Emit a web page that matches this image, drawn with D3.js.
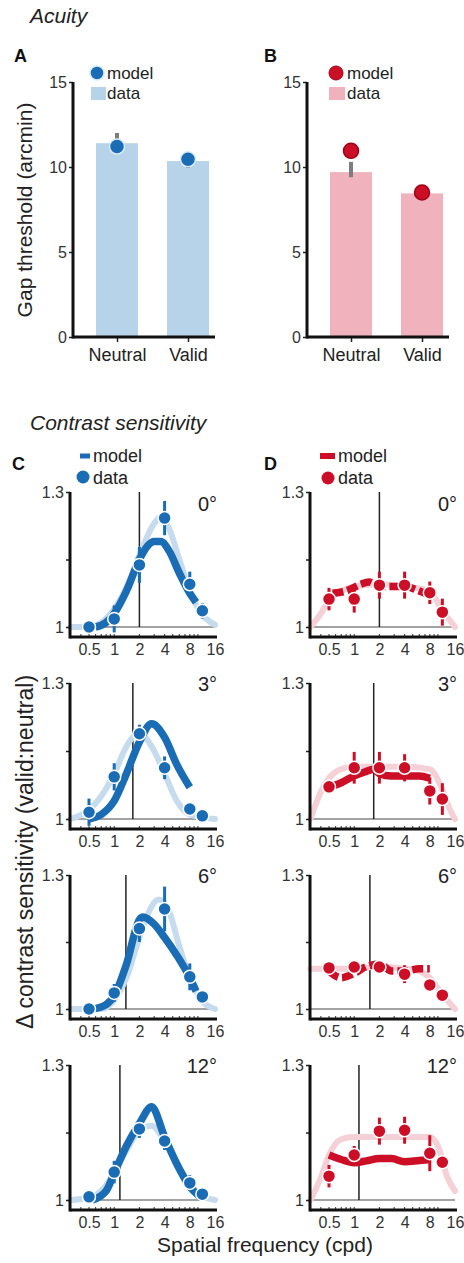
<!DOCTYPE html>
<html><head><meta charset="utf-8">
<script src="https://cdn.jsdelivr.net/npm/d3@7"></script>
<style>body{margin:0;background:#fff}svg{display:block;font-family:"Liberation Sans",Arial,Helvetica,sans-serif}</style>
</head><body><svg id="c" width="464" height="1263"></svg>
<script>
// ---------------- DATA ----------------
const acuityConditions = ["Neutral", "Valid"];
const acuityTicks = [0, 5, 10, 15];
const acuityDataA = [11.4, 10.35];
const acuityModelA = [11.2, 10.45];
const acuityErrLoA = [11.0, 9.95];
const acuityErrHiA = [12.0, 10.35];
const acuityDataB = [9.7, 8.45];
const acuityModelB = [10.95, 8.5];
const acuityErrLoB = [9.4, 8.4];
const acuityErrHiB = [10.3, 8.5];

const csFreqs = [0.5, 1, 2, 4, 8, 11.3];
const csXTicks = [0.5, 1, 2, 4, 8, 16];
const csYTicks = [1, 1.15, 1.3];
const eccLabels = ["0°", "3°", "6°", "12°"];

const csDataC = [
  [1.0, 1.018, 1.138, 1.242, 1.095, 1.036],
  [1.015, 1.093, 1.188, 1.113, 1.022, 1.007],
  [1.0, 1.036, 1.18, 1.224, 1.072, 1.027],
  [1.007, 1.062, 1.158, 1.131, 1.038, 1.013]
];
const csErrC = [
  [0.01, 0.03, 0.04, 0.038, 0.028, 0.017],
  [0.03, 0.03, 0.02, 0.025, 0.01, 0.01],
  [0.01, 0.02, 0.03, 0.05, 0.03, 0.015],
  [0.01, 0.025, 0.02, 0.02, 0.017, 0.01]
];
const csFitC = [
  [[0.3,1.0],[0.5,1.0],[0.7,1.01],[1,1.04],[1.5,1.1],[2,1.16],[3,1.23],[3.6,1.245],[4.5,1.22],[6,1.15],[8,1.08],[11,1.03],[16,1.005]],
  [[0.3,1.0],[0.5,1.02],[0.7,1.05],[1,1.10],[1.4,1.16],[2,1.19],[2.8,1.16],[4,1.1],[5.6,1.04],[8,1.01],[16,1.0]],
  [[0.3,1.0],[0.7,1.0],[1,1.02],[1.4,1.07],[2,1.16],[2.8,1.23],[3.4,1.245],[4.5,1.22],[6,1.14],[8,1.07],[11,1.02],[16,1.0]],
  [[0.3,1.0],[0.5,1.005],[0.7,1.02],[1,1.06],[1.4,1.11],[2,1.155],[2.8,1.165],[4,1.13],[5.6,1.08],[8,1.035],[11,1.01],[16,1.0]]
];
const csModelC = [
  [[0.6,1.0],[0.8,1.01],[1,1.03],[1.4,1.08],[2,1.15],[2.5,1.18],[3,1.19],[3.6,1.19],[4.5,1.17],[6,1.12],[8,1.075],[9.5,1.055]],
  [[0.5,1.0],[0.7,1.01],[1,1.04],[1.4,1.1],[2,1.17],[2.8,1.21],[4,1.18],[5.6,1.12],[8,1.07]],
  [[0.55,1.0],[0.8,1.01],[1,1.03],[1.4,1.1],[2,1.2],[2.2,1.206],[3,1.19],[4,1.16],[5.6,1.12],[8,1.07],[9.5,1.04]],
  [[0.55,1.0],[0.8,1.02],[1,1.06],[1.4,1.12],[2,1.17],[2.8,1.207],[4,1.14],[5.6,1.08],[8,1.03],[11,1.005]]
];
const csVLineC = [2, 1.67, 1.38, 1.17];

const csDataD = [
  [1.062, 1.062, 1.093, 1.093, 1.076, 1.033],
  [1.071, 1.113, 1.113, 1.113, 1.062, 1.044],
  [1.092, 1.094, 1.094, 1.078, 1.054, 1.031],
  [1.053, 1.1, 1.153, 1.155, 1.104, 1.084]
];
const csErrD = [
  [0.025, 0.03, 0.03, 0.03, 0.025, 0.03],
  [0.01, 0.035, 0.035, 0.03, 0.03, 0.035],
  [0.015, 0.015, 0.01, 0.02, 0.01, 0.01],
  [0.025, 0.02, 0.03, 0.03, 0.04, 0.01]
];
const csFitD = [
  [[0.3,1.0],[0.4,1.03],[0.5,1.06],[0.7,1.08],[1,1.09],[2,1.095],[4,1.09],[8,1.08],[11,1.04],[16,1.0]],
  [[0.3,1.0],[0.4,1.06],[0.5,1.09],[0.7,1.11],[1,1.115],[2,1.115],[4,1.115],[8,1.11],[11,1.07],[14,1.02],[16,1.0]],
  [[0.3,1.09],[0.5,1.09],[1,1.09],[2,1.095],[4,1.09],[6,1.085],[8,1.07],[11,1.035],[16,1.0]],
  [[0.3,1.0],[0.4,1.05],[0.5,1.1],[0.7,1.135],[1,1.14],[2,1.14],[4,1.14],[8,1.14],[10,1.12],[13,1.05],[16,1.02]]
];
const csModelD = [
  [[0.55,1.075],[0.8,1.08],[1.2,1.095],[1.5,1.1],[2,1.09],[3,1.09],[4,1.09],[6,1.08],[8,1.07]],
  [[0.5,1.07],[0.7,1.08],[1,1.095],[1.4,1.105],[1.7,1.11],[2,1.1],[2.8,1.095],[4,1.095],[6,1.095],[8,1.09]],
  [[0.5,1.085],[0.7,1.07],[1,1.08],[1.4,1.095],[2,1.1],[2.8,1.085],[4,1.085],[6,1.09],[8,1.09]],
  [[0.5,1.1],[0.7,1.09],[1,1.083],[1.4,1.087],[2,1.092],[2.8,1.092],[4,1.085],[6,1.088],[8,1.09]]
];
const csVLineD = [2, 1.71, 1.54, 1.14];

// ---------------- STYLE ----------------
const BLUE = "#1a6db4", LBLUE = "#b6d3e9", LBLUE_CURVE = "#c6dcee";
const RED = "#cc0f27", PINK = "#f0b2bd", LPINK = "#f5d0d7";
const svg = d3.select("#c");

function txt(x, y, s, size, opts = {}) {
  const t = svg.append("text").attr("x", x).attr("y", y).text(s)
    .attr("font-size", size).attr("fill", opts.fill || "#222");
  if (opts.bold) t.attr("font-weight", "bold");
  if (opts.italic) t.attr("font-style", "italic");
  if (opts.anchor) t.attr("text-anchor", opts.anchor);
  if (opts.rotate) t.attr("transform", `rotate(-90,${x},${y})`);
  return t;
}

// ---------------- ACUITY ----------------
txt(30, 23, "Acuity", 21, {italic: true});
txt(14, 62, "A", 18, {bold: true, fill: "#111"});
txt(264, 62, "B", 18, {bold: true, fill: "#111"});
txt(32, 210, "Gap threshold (arcmin)", 21, {anchor: "middle", rotate: true});

function acuity(x0, data, model, lo, hi, barColor, dotColor, dotStroke) {
  const y = d3.scaleLinear().domain([0, 15]).range([337, 82]);
  const x = d3.scalePoint().domain(acuityConditions).range([x0 + 44, x0 + 115]);
  const g = svg.append("g");
  const bw = 42;
  g.selectAll("rect.bar").data(data).enter().append("rect")
    .attr("x", (d, i) => x(acuityConditions[i]) - bw / 2).attr("width", bw)
    .attr("y", d => y(d)).attr("height", d => y(0) - y(d)).attr("fill", barColor);
  g.selectAll("line.err").data(data).enter().append("line")
    .attr("x1", (d, i) => x(acuityConditions[i])).attr("x2", (d, i) => x(acuityConditions[i]))
    .attr("y1", (d, i) => y(lo[i])).attr("y2", (d, i) => y(hi[i]))
    .attr("stroke", "#7d7d7d").attr("stroke-width", 4);
  g.selectAll("circle.m").data(model).enter().append("circle")
    .attr("cx", (d, i) => x(acuityConditions[i])).attr("cy", d => y(d)).attr("r", 7.5)
    .attr("fill", dotColor).attr("stroke", dotStroke).attr("stroke-width", 1.5);
  const ya = g.append("g").attr("transform", `translate(${x0},0)`)
    .call(d3.axisLeft(y).tickValues(acuityTicks).tickSize(4).tickSizeOuter(0).tickPadding(2));
  ya.select(".domain").remove();
  ya.selectAll("line").attr("stroke", "#222").attr("stroke-width", 1.5);
  ya.selectAll("text").attr("font-size", 16).attr("fill", "#333").attr("font-family", null);
  g.append("line").attr("x1", x0).attr("x2", x0).attr("y1", y(15)).attr("y2", y(0) + 1.5)
    .attr("stroke", "#111").attr("stroke-width", 3);
  const xa = g.append("g").attr("transform", `translate(0,${y(0)})`)
    .call(d3.axisBottom(x).tickSize(5).tickSizeOuter(0).tickPadding(6));
  xa.select(".domain").remove();
  xa.selectAll("line").attr("stroke", "#222").attr("stroke-width", 1.5);
  xa.selectAll("text").attr("font-size", 18).attr("fill", "#222").attr("font-family", null);
  g.append("line").attr("x1", x0).attr("x2", x0 + 142).attr("y1", y(0)).attr("y2", y(0))
    .attr("stroke", "#111").attr("stroke-width", 3);
}
acuity(73, acuityDataA, acuityModelA, acuityErrLoA, acuityErrHiA, LBLUE, BLUE, "#d9ebf7");
acuity(307, acuityDataB, acuityModelB, acuityErrLoB, acuityErrHiB, PINK, RED, "#a00018");

// acuity legends
svg.append("circle").attr("cx", 97).attr("cy", 73).attr("r", 7).attr("fill", BLUE).attr("stroke", "#d9ebf7").attr("stroke-width", 1.5);
txt(107, 79, "model", 17);
svg.append("rect").attr("x", 91).attr("y", 87).attr("width", 15).attr("height", 13).attr("fill", LBLUE);
txt(107, 99, "data", 17);
svg.append("circle").attr("cx", 336).attr("cy", 73).attr("r", 7).attr("fill", RED).attr("stroke", "#a00018").attr("stroke-width", 1);
txt(347, 79, "model", 17);
svg.append("rect").attr("x", 329).attr("y", 87).attr("width", 16).attr("height", 13).attr("fill", PINK);
txt(347, 99, "data", 17);

// ---------------- CONTRAST SENSITIVITY ----------------
txt(30, 430, "Contrast sensitivity", 21, {italic: true});
txt(12, 470, "C", 18, {bold: true, fill: "#111"});
txt(264, 470, "D", 18, {bold: true, fill: "#111"});
txt(33, 852, "\u0394 contrast sensitivity (valid:neutral)", 23, {anchor: "middle", rotate: true});
txt(265, 1252, "Spatial frequency (cpd)", 21, {anchor: "middle"});

svg.append("line").attr("x1", 80).attr("x2", 90).attr("y1", 456).attr("y2", 456).attr("stroke", BLUE).attr("stroke-width", 5);
txt(93, 462, "model", 18);
svg.append("circle").attr("cx", 83).attr("cy", 477).attr("r", 6.5).attr("fill", BLUE);
txt(93, 484, "data", 18);
svg.append("line").attr("x1", 320).attr("x2", 335).attr("y1", 456).attr("y2", 456).attr("stroke", RED).attr("stroke-width", 6);
txt(338, 462, "model", 18);
svg.append("circle").attr("cx", 328).attr("cy", 478).attr("r", 6.5).attr("fill", RED);
txt(338, 484, "data", 18);

const rowTop = [492, 683, 875, 1065];
const rowOne = [627, 819, 1009, 1200];
const minorTicks = d3.scaleLog().domain([0.3, 16]).ticks();

function csPanel(x0, r, data, err, fit, model, vline, dark, light, dashed) {
  const x = d3.scaleLog().base(2).domain([0.5, 16]).range([x0 + 19, x0 + 145]);
  const y = d3.scaleLinear().domain([1, 1.3]).range([rowOne[r], rowTop[r]]);
  const yb = rowOne[r] + 10;
  const g = svg.append("g");
  g.append("line").attr("x1", x0).attr("x2", x(16)).attr("y1", y(1)).attr("y2", y(1))
    .attr("stroke", "#858585").attr("stroke-width", 1.5);
  g.append("line").attr("x1", x(vline)).attr("x2", x(vline)).attr("y1", y(1.3)).attr("y2", y(1))
    .attr("stroke", "#222").attr("stroke-width", 1.5);
  const line = d3.line().x(d => x(d[0])).y(d => y(d[1])).curve(d3.curveMonotoneX);
  g.append("path").attr("d", line(fit)).attr("fill", "none").attr("stroke", light)
    .attr("stroke-width", 6).attr("stroke-linecap", "round").attr("stroke-linejoin", "round");
  const mp = g.append("path").attr("d", line(model)).attr("fill", "none").attr("stroke", dark)
    .attr("stroke-width", 7.5).attr("stroke-linejoin", "round");
  if (dashed) mp.attr("stroke-dasharray", "11,4");
  g.selectAll("line.e").data(data).enter().append("line")
    .attr("x1", (d, i) => x(csFreqs[i])).attr("x2", (d, i) => x(csFreqs[i]))
    .attr("y1", (d, i) => y(d - err[r][i])).attr("y2", (d, i) => y(d + err[r][i]))
    .attr("stroke", dark).attr("stroke-width", 3);
  g.selectAll("circle.p").data(data).enter().append("circle")
    .attr("cx", (d, i) => x(csFreqs[i])).attr("cy", d => y(d)).attr("r", 6.5)
    .attr("fill", dark).attr("stroke", "#fff").attr("stroke-width", 1.5);
  const ya = g.append("g").attr("transform", `translate(${x0},0)`)
    .call(d3.axisLeft(y).tickValues(csYTicks).tickSize(4).tickSizeOuter(0).tickPadding(2)
      .tickFormat(d => d === 1 ? "1" : d === 1.3 ? "1.3" : ""));
  ya.select(".domain").remove();
  ya.selectAll("line").attr("stroke", "#222").attr("stroke-width", 1.5);
  ya.selectAll("text").attr("font-size", 16).attr("fill", "#333").attr("font-family", null);
  g.append("line").attr("x1", x0).attr("x2", x0).attr("y1", y(1.3)).attr("y2", yb + 1.5)
    .attr("stroke", "#111").attr("stroke-width", 3);
  const xa = g.append("g").attr("transform", `translate(0,${yb})`)
    .call(d3.axisBottom(x).tickValues(csXTicks).tickSize(0).tickSizeOuter(0).tickPadding(7)
      .tickFormat(d => String(d)));
  xa.select(".domain").remove();
  xa.selectAll("text").attr("font-size", 16).attr("fill", "#333").attr("font-family", null);
  g.selectAll("line.minor").data(minorTicks.filter(v => x(v) > x0 + 2 && x(v) <= x(16))).enter()
    .append("line").attr("x1", d => x(d)).attr("x2", d => x(d)).attr("y1", yb).attr("y2", yb - 3)
    .attr("stroke", "#333").attr("stroke-width", 1);
  g.append("line").attr("x1", x0).attr("x2", x0 + 147).attr("y1", yb).attr("y2", yb)
    .attr("stroke", "#111").attr("stroke-width", 3);
  txt(x0 + 147, rowTop[r] + (r === 0 ? 19 : 8), eccLabels[r], 20, {anchor: "end"});
}

for (let r = 0; r < 4; r++) {
  csPanel(70, r, csDataC[r], csErrC, csFitC[r], csModelC[r], csVLineC[r], BLUE, LBLUE_CURVE, false);
  csPanel(310, r, csDataD[r], csErrD, csFitD[r], csModelD[r], csVLineD[r], RED, LPINK, r === 0 || r === 2);
}
</script></body></html>
